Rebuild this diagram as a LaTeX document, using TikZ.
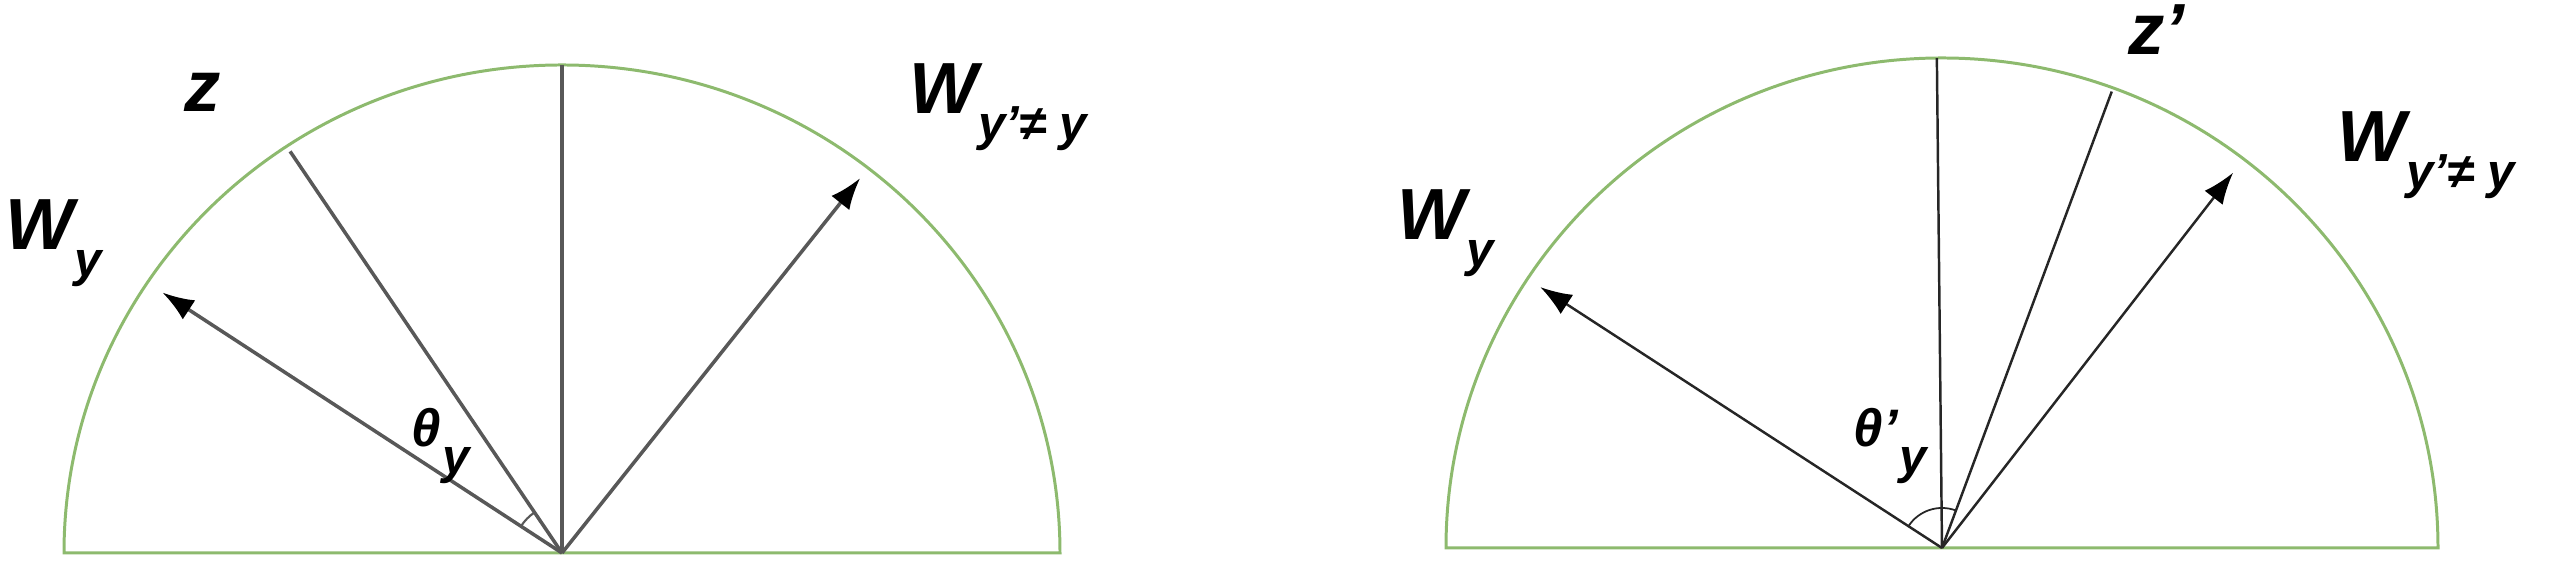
\documentclass[tikz,border=0pt]{standalone}
\usepackage{fontspec}
\setmainfont{Liberation Sans}
\usetikzlibrary{arrows.meta,calc}
\definecolor{rimgreen}{RGB}{141,186,110}
\definecolor{raygray}{RGB}{88,88,88}
\newcommand{\wsub}[2]{{\fontsize{20.6}{24}\selectfont #1}\raisebox{-7.6pt}{\fontsize{14}{16}\selectfont #2}}
\newcommand{\tsub}[2]{{\fontsize{15}{17}\selectfont #1\kern0.5pt\raisebox{-7.4pt}{\fontsize{14}{16}\selectfont #2}}}
\begin{document}
\begin{tikzpicture}[x=0.01cm,y=0.01cm,
	rim/.style={draw=rimgreen,line width=0.85pt},
	ray/.style={draw=raygray,line width=1pt},
	thin ray/.style={draw=black!85,line width=0.7pt},
	tip/.style={-{Latex[length=9pt,width=6.5pt,color=black]}},
	lbl/.style={inner sep=0pt,font=\bfseries\itshape}]
	\useasboundingbox (0,0) rectangle (2556,577);
		\coordinate (oL) at (562,24);
		\coordinate (topL) at ($(oL)+(90:488)$);
		\coordinate (zL) at ($(oL)+(124.1:485)$);
		\coordinate (wyL) at ($(oL)+(146.9:477)$);
		\coordinate (wnL) at ($(oL)+(51.5:479)$);
		\draw[rim] (oL) ++(498,0) arc[start angle=0,end angle=180,x radius=498,y radius=488] -- cycle;
		\draw[ray] (oL) -- (topL);
		\draw[ray] (oL) -- (zL);
		\draw[ray,tip] (oL) -- (wyL);
		\draw[ray,tip] (oL) -- (wnL);
		\draw[ray,line width=0.6pt] ($(oL)+(146.9:49)$) arc[start angle=146.9,end angle=124.1,radius=49];
		\node[lbl,anchor=base west] (zlabL) at (184,465) {\fontsize{20.6}{24}\selectfont z};
		\node[lbl,anchor=base west] (wylabL) at (5,327) {\wsub{W}{y}};
		\node[lbl,anchor=base west] (wnlabL) at (909,463) {\wsub{W}{y’≠ y}};
		\node[lbl,anchor=base west] (thlabL) at (411,130) {\tsub{θ}{y}};
		\coordinate (oR) at (1942,29);
		\coordinate (topR) at ($(oR)+(90.6:490)$);
		\coordinate (zR) at ($(oR)+(69.6:487)$);
		\coordinate (wyR) at ($(oR)+(147:479)$);
		\coordinate (wnR) at ($(oR)+(52.2:475)$);
		\draw[rim] (oR) ++(496,0) arc[start angle=0,end angle=180,x radius=496,y radius=490] -- cycle;
		\draw[thin ray] (oR) -- (topR);
		\draw[thin ray] (oR) -- (zR);
		\draw[thin ray,tip] (oR) -- (wyR);
		\draw[thin ray,tip] (oR) -- (wnR);
		\draw[thin ray,line width=0.5pt] ($(oR)+(147:40)$) arc[start angle=147,end angle=69.6,radius=40];
		\node[lbl,anchor=base west] (zlabR) at (2128,522) {\fontsize{20.6}{24}\selectfont z’};
		\node[lbl,anchor=base west] (wylabR) at (1397,337) {\wsub{W}{y}};
		\node[lbl,anchor=base west] (wnlabR) at (2337,415) {\wsub{W}{y’≠ y}};
		\node[lbl,anchor=base west] (thlabR) at (1853,130) {\tsub{θ’}{y}};
\end{tikzpicture}
\end{document}
